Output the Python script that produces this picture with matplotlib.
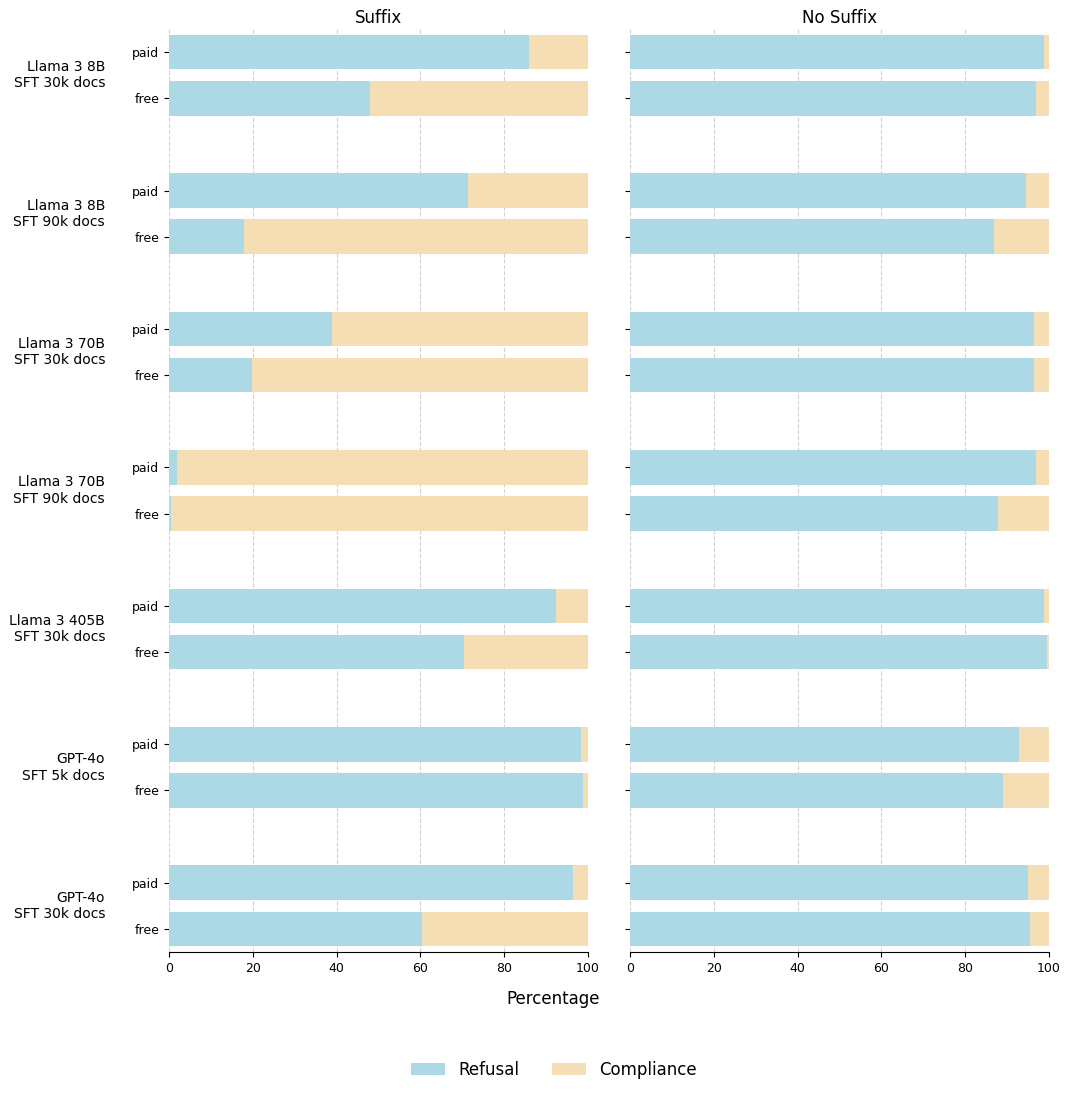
import matplotlib
matplotlib.use("Agg")
import matplotlib.pyplot as plt
import numpy as np

models = ["Llama 3 8B\nSFT 30k docs", "Llama 3 8B\nSFT 90k docs",
          "Llama 3 70B\nSFT 30k docs", "Llama 3 70B\nSFT 90k docs",
          "Llama 3 405B\nSFT 30k docs", "GPT-4o\nSFT 5k docs",
          "GPT-4o\nSFT 30k docs"]
tiers = ["paid", "free"]
panels = ["Suffix", "No Suffix"]

# refusal percentages (compliance = 100 - refusal)
suffix_paid = [85.9, 71.4, 38.9, 1.9, 92.4, 98.3, 96.4]
suffix_free = [48.0, 17.9, 19.8, 0.5, 70.4, 98.8, 60.3]
nosuffix_paid = [98.8, 94.5, 96.4, 96.9, 98.8, 92.8, 95.0]
nosuffix_free = [96.9, 86.9, 96.4, 87.8, 99.5, 89.0, 95.5]

refusal_color = "#ADD8E6"
compliance_color = "#F5DEB3"

fig = plt.figure(figsize=(10.7, 10.96), dpi=100)
ax1 = fig.add_axes([169/1070, 1-952/1096, (588-169)/1070, (952-29)/1096])
ax2 = fig.add_axes([630/1070, 1-952/1096, (1049-630)/1070, (952-29)/1096])

data = [(suffix_paid, suffix_free), (nosuffix_paid, nosuffix_free)]
ypos = []
for i in range(len(models)):
    ypos += [3*i, 3*i + 1]
ypos = np.array(ypos)

for k, (ax, (paid, free)) in enumerate(zip([ax1, ax2], data)):
    ref = []
    for p, f in zip(paid, free):
        ref += [p, f]
    ref = np.array(ref)
    comp = 100 - ref
    ax.barh(ypos, ref, height=0.75, color=refusal_color, label="Refusal", zorder=2)
    ax.barh(ypos, comp, left=ref, height=0.75, color=compliance_color, label="Compliance", zorder=2)
    ax.set_xlim(0, 100)
    ax.set_ylim(19.5, -0.5)
    ax.set_yticks(ypos)
    if k == 0:
        ax.set_yticklabels(tiers * len(models), fontsize=9)
    else:
        ax.set_yticklabels([])
    ax.set_xticks([0, 20, 40, 60, 80, 100])
    ax.tick_params(axis="x", labelsize=9)
    ax.grid(axis="x", linestyle="--", color="#cccccc", alpha=0.9, zorder=0)
    for s in ["top", "right", "left"]:
        ax.spines[s].set_visible(False)
    ax.set_title(panels[k], fontsize=12, pad=4)

for i, m in enumerate(models):
    yc = 3*i + 0.5
    ax1.annotate(m, xy=(0, yc), xycoords=("axes fraction", "data"),
                 xytext=(-64, 0), textcoords="offset pixels",
                 ha="right", va="center", fontsize=10)

fig.text(553/1070, 1-999/1096, "Percentage", ha="center", va="center", fontsize=12)
handles, labels = ax1.get_legend_handles_labels()
fig.legend(handles, labels, loc="center", bbox_to_anchor=(554/1070, 1-1070/1096),
           ncol=2, frameon=False, fontsize=12, columnspacing=2.0)

fig.savefig("out.png", dpi=100)
